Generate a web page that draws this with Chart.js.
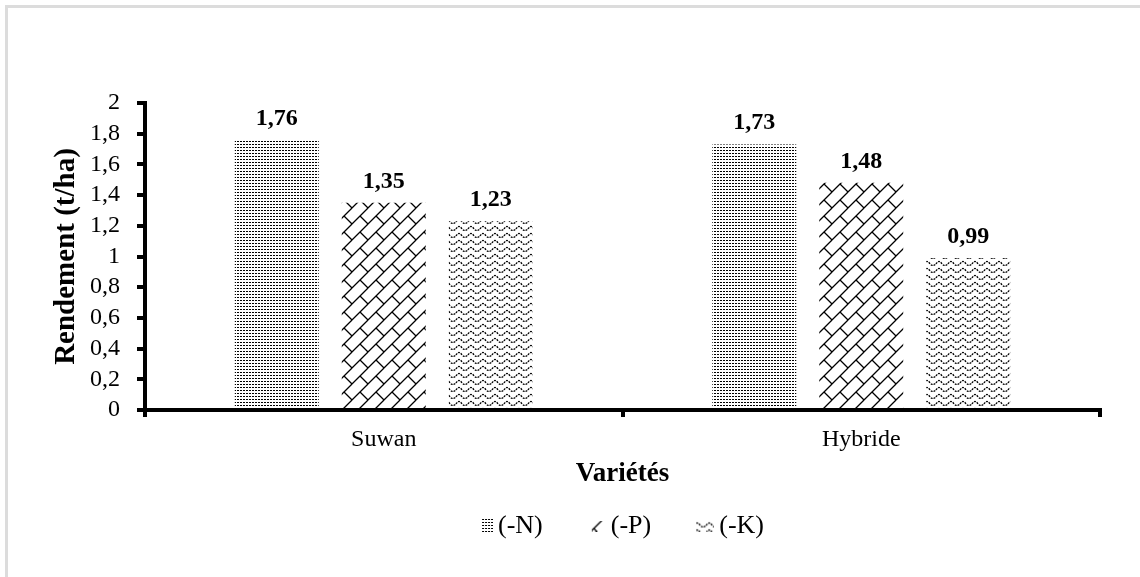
<!DOCTYPE html>
<html lang="fr">
<head>
    <meta charset="UTF-8">
    <script src="https://cdn.jsdelivr.net/npm/chart.js"></script>
    <title>Rendement</title>
    <style>
        html, body { margin: 0; padding: 0; background: #fff; }
        .cadre {
            position: absolute; left: 5px; top: 5px; right: 0; bottom: 0;
            border-top: 3px solid #dcdcdc; border-left: 3px solid #dcdcdc;
        }
        .zone { position: absolute; left: 0; top: 0; width: 1140px; height: 577px; }
    </style>
</head>
<body>
    <div class="cadre"></div>
    <div class="zone"><canvas id="graphRendement"></canvas></div>

<script>
    var varietes = ['Suwan', 'Hybride'];
    var traitements = ['(-N)', '(-P)', '(-K)'];
    var rendementN = [1.76, 1.73];
    var rendementP = [1.35, 1.48];
    var rendementK = [1.23, 0.99];
    var ticksY = [0, 0.2, 0.4, 0.6, 0.8, 1, 1.2, 1.4, 1.6, 1.8, 2];

    var police = "'Liberation Serif', 'Times New Roman', serif";

    function virgule(v) {
        return String(v).replace('.', ',');
    }

    // motifs des barres (tuiles répétées)
    function tuile(taille, dessin) {
        var c = document.createElement('canvas');
        c.width = taille[0];
        c.height = taille[1];
        var ctx = c.getContext('2d');
        ctx.fillStyle = '#fff';
        ctx.fillRect(0, 0, c.width, c.height);
        ctx.strokeStyle = '#000';
        ctx.fillStyle = '#000';
        for (var dx = -1; dx <= 1; dx++) {
            for (var dy = -1; dy <= 1; dy++) {
                ctx.save();
                ctx.translate(dx * c.width, dy * c.height);
                dessin(ctx);
                ctx.restore();
            }
        }
        return c;
    }

    var tuileN = tuile([3, 3], function (ctx) {
        ctx.fillRect(0, 0, 1, 1);
        ctx.fillRect(1, 0, 1, 1);
    });
    var tuileP = tuile([16, 16], function (ctx) {
        ctx.lineWidth = 1.3;
        ctx.beginPath();
        ctx.moveTo(0, 16); ctx.lineTo(16, 0);
        ctx.moveTo(8, 8); ctx.lineTo(16, 16);
        ctx.stroke();
    });
    var tuileK = tuile([12, 7], function (ctx) {
        ctx.lineWidth = 1.3;
        ctx.setLineDash([2, 1]);
        ctx.beginPath();
        ctx.moveTo(0, 5);
        ctx.quadraticCurveTo(3, 0, 6, 5);
        ctx.quadraticCurveTo(9, 8, 12, 5);
        ctx.stroke();
    });

    var ctxTmp = document.createElement('canvas').getContext('2d');
    var motifN = ctxTmp.createPattern(tuileN, 'repeat');
    var motifP = ctxTmp.createPattern(tuileP, 'repeat');
    var motifK = ctxTmp.createPattern(tuileK, 'repeat');

    // petit symbole de légende, calé à droite d'une image de 20 px
    function pastille(motif, l, h) {
        var c = document.createElement('canvas');
        c.width = 20;
        c.height = h;
        var ctx = c.getContext('2d');
        ctx.fillStyle = motif;
        ctx.fillRect(20 - l, 0, l, h);
        return c;
    }

    var etiquettes = {
        id: 'etiquettes',
        afterDatasetsDraw: function (chart) {
            var ctx = chart.ctx;
            ctx.save();
            ctx.font = 'bold 24px ' + police;
            ctx.fillStyle = '#000';
            ctx.textAlign = 'center';
            ctx.textBaseline = 'alphabetic';
            chart.data.datasets.forEach(function (ds, i) {
                chart.getDatasetMeta(i).data.forEach(function (barre, j) {
                    ctx.fillText(virgule(ds.data[j].toFixed(2)), barre.x, barre.y - 15);
                });
            });
            ctx.restore();
        }
    };

    var data = {
        labels: varietes,
        datasets: [{
            label: traitements[0],
            data: rendementN,
            backgroundColor: motifN,
            pointStyle: pastille(motifN, 11, 14)
        },
        {
            label: traitements[1],
            data: rendementP,
            backgroundColor: motifP,
            pointStyle: pastille(motifP, 14, 11)
        },
        {
            label: traitements[2],
            data: rendementK,
            backgroundColor: motifK,
            pointStyle: pastille(motifK, 18, 11)
        }]
    };

    var config = {
        type: 'bar',
        data: data,
        plugins: [etiquettes],
        options: {
            responsive: true,
            maintainAspectRatio: false,
            animation: false,
            categoryPercentage: 0.672,
            barPercentage: 0.785,
            layout: {
                padding: { top: 103, right: 40, left: 0, bottom: 28 }
            },
            plugins: {
                tooltip: { enabled: false },
                legend: {
                    position: 'bottom',
                    fullSize: false,
                    labels: {
                        usePointStyle: true,
                        boxWidth: 4,
                        padding: 51,
                        color: '#000',
                        font: { family: police, size: 26 }
                    }
                }
            },
            scales: {
                y: {
                    min: 0,
                    max: 2,
                    afterFit: function (scale) { scale.width = 145; },
                    afterBuildTicks: function (scale) {
                        scale.ticks = ticksY.map(function (v) { return { value: v }; });
                    },
                    border: { color: '#000', width: 4 },
                    grid: {
                        drawOnChartArea: false,
                        color: '#000',
                        lineWidth: 4,
                        tickLength: 8
                    },
                    ticks: {
                        color: '#000',
                        padding: 17,
                        autoSkip: false,
                        font: { family: police, size: 24 },
                        callback: function (v) { return virgule(Math.round(v * 10) / 10); }
                    },
                    title: {
                        display: true,
                        text: 'Rendement (t/ha)',
                        color: '#000',
                        padding: { top: 49, bottom: 0 },
                        font: { family: police, size: 29, weight: 'bold' }
                    }
                },
                x: {
                    afterFit: function (scale) { scale.height = 52; },
                    border: { color: '#000', width: 4 },
                    grid: {
                        drawOnChartArea: false,
                        color: '#000',
                        lineWidth: 4,
                        tickLength: 7
                    },
                    ticks: {
                        color: '#000',
                        padding: 8,
                        font: { family: police, size: 24 }
                    },
                    title: {
                        display: true,
                        text: 'Variétés',
                        color: '#000',
                        padding: { top: 0, bottom: -28 },
                        font: { family: police, size: 27, weight: 'bold' }
                    }
                }
            }
        }
    };

    var graphique = new Chart(document.getElementById('graphRendement'), config);
</script>
</body>
</html>
